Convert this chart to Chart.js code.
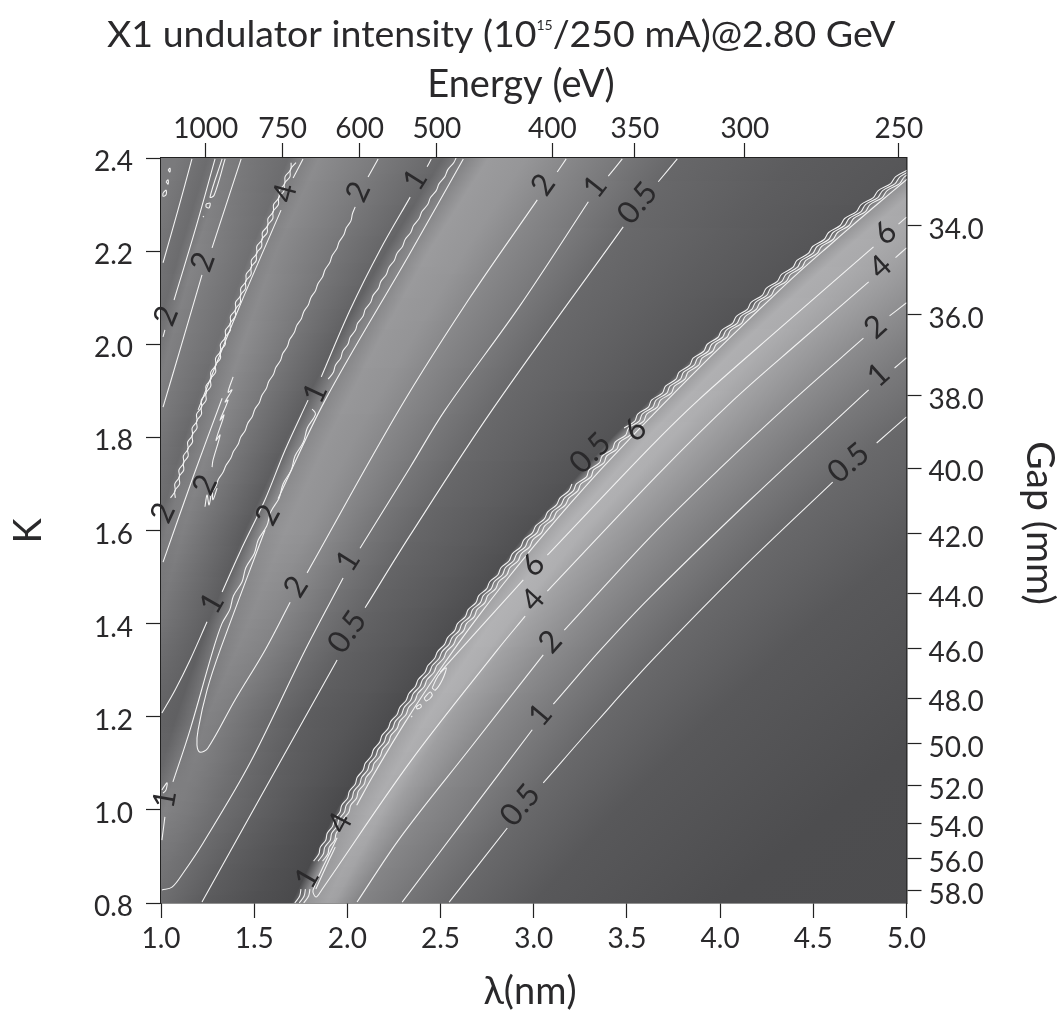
<!DOCTYPE html>
<html>
<head>
<meta charset="utf-8">
<script src="https://cdn.jsdelivr.net/npm/chart.js@4"></script>
<style>
  html, body { margin: 0; padding: 0; background: #fff; }
  canvas { display: block; }
</style>
</head>
<body>
<canvas id="chart" width="1060" height="1011"></canvas>
<script>
// top and right axes are labelled in other units, ticks sit at the matching lambda / K
const energyLabels = ['1000', '750', '600', '500', '400', '350', '300', '250'];
const energyLambda = [1.24, 1.653, 2.066, 2.48, 3.1, 3.542, 4.133, 4.959];
const gapLabels = ['34.0', '36.0', '38.0', '40.0', '42.0', '44.0', '46.0', '48.0', '50.0', '52.0', '54.0', '56.0', '58.0'];
const gapK = [2.255, 2.063, 1.889, 1.734, 1.5925, 1.464, 1.346, 1.24, 1.1415, 1.052, 0.97, 0.8945, 0.826];

// background: grey level read along ridges and troughs, one row per K
const bandK = [0.8, 1.0, 1.2, 1.4, 1.6, 1.8, 2.0, 2.2, 2.4];
const bandLambda = [
  [0.36, 0.41, 0.47, 0.54, 0.62, 0.71, 0.82, 0.94, 1.08],
  [0.41, 0.47, 0.54, 0.625, 0.725, 0.835, 0.96, 1.10, 1.25],
  [0.49, 0.55, 0.62, 0.71, 0.81, 0.925, 1.05, 1.19, 1.35],
  [0.55, 0.63, 0.73, 0.845, 0.977, 1.127, 1.297, 1.48, 1.683],
  [0.60, 0.68, 0.78, 0.895, 1.03, 1.18, 1.35, 1.53, 1.735],
  [0.69, 0.77, 0.87, 0.985, 1.12, 1.27, 1.44, 1.62, 1.85],
  [0.815, 0.935, 1.08, 1.25, 1.45, 1.675, 1.93, 2.205, 2.51],
  [0.88, 1.02, 1.17, 1.34, 1.54, 1.765, 2.02, 2.295, 2.6],
  [0.93, 1.10, 1.25, 1.47, 1.67, 1.90, 2.16, 2.44, 2.76],
  [0.945, 1.15, 1.295, 1.55, 1.79, 2.04, 2.33, 2.63, 2.96],
  [0.96, 1.20, 1.34, 1.635, 1.91, 2.19, 2.50, 2.83, 3.18],
  [1.00, 1.27, 1.55, 1.85, 2.12, 2.43, 2.75, 3.10, 3.47],
  [1.22, 1.50, 1.76, 2.06, 2.35, 2.68, 3.03, 3.39, 3.77],
  [1.50, 1.75, 2.03, 2.36, 2.70, 3.08, 3.50, 3.95, 4.43],
  [1.70, 1.94, 2.24, 2.58, 2.97, 3.42, 3.92, 4.47, 5.07],
  [1.77, 2.01, 2.31, 2.65, 3.04, 3.49, 3.99, 4.54, 5.14],
  [1.89, 2.13, 2.43, 2.77, 3.16, 3.61, 4.11, 4.66, 5.26],
  [1.93, 2.19, 2.49, 2.86, 3.27, 3.74, 4.25, 4.82, 5.43],
  [1.97, 2.25, 2.55, 2.95, 3.38, 3.88, 4.40, 4.99, 5.60],
  [2.05, 2.40, 2.79, 3.22, 3.66, 4.17, 4.74, 5.40, 6.10],
  [2.29, 2.70, 3.05, 3.49, 3.96, 4.48, 5.09, 5.80, 6.50],
  [2.54, 2.94, 3.35, 3.80, 4.30, 4.88, 5.60, 6.30, 7.00],
  [3.00, 3.45, 3.95, 4.50, 5.10, 5.80, 6.50, 7.20, 7.90],
  [4.00, 4.60, 5.20, 5.90, 6.60, 7.30, 8.00, 8.70, 9.40],
  [9.50, 9.60, 9.70, 9.80, 9.90, 10.0, 10.1, 10.2, 10.3]
];
const bandGray = [
  [100, 100, 100, 105, 110, 120, 120, 120, 122],
  [100, 100, 100, 105, 110, 108, 110, 108, 108],
  [100, 100, 100, 108, 118, 125, 128, 132, 125],
  [100, 100, 100, 108, 110, 105, 112, 112, 108],
  [100, 100, 100, 112, 125, 122, 128, 130, 125],
  [100, 100, 102, 118, 128, 135, 140, 138, 140],
  [112, 110, 96, 95, 92, 95, 96, 100, 103],
  [112, 130, 115, 128, 140, 135, 130, 130, 125],
  [112, 125, 130, 140, 150, 150, 152, 155, 155],
  [112, 122, 128, 136, 146, 146, 148, 150, 150],
  [111, 118, 125, 132, 136, 136, 136, 136, 136],
  [110, 112, 108, 114, 118, 120, 122, 122, 120],
  [92, 98, 94, 99, 103, 105, 105, 105, 103],
  [80, 84, 86, 88, 91, 93, 94, 94, 92],
  [74, 74, 76, 78, 80, 83, 84, 85, 86],
  [148, 158, 160, 160, 158, 156, 152, 150, 146],
  [163, 172, 176, 178, 178, 178, 175, 172, 168],
  [160, 169, 173, 175, 175, 175, 172, 169, 165],
  [150, 158, 160, 162, 162, 162, 162, 162, 160],
  [132, 136, 138, 140, 140, 140, 140, 140, 140],
  [118, 120, 122, 122, 122, 122, 122, 122, 122],
  [105, 105, 105, 105, 105, 105, 105, 105, 105],
  [88, 88, 88, 88, 88, 88, 88, 88, 88],
  [77, 77, 77, 77, 77, 77, 77, 77, 77],
  [73, 73, 73, 73, 73, 73, 73, 73, 73]
];

// contours, [lambda, K], null where the line breaks for its label
const c05a = [[2.546, 0.802], [2.858, 0.961], null, [3.051, 1.058], [3.346, 1.193], [3.637, 1.322], [4.109, 1.515], [4.604, 1.704], null, [4.840, 1.788], [5.0, 1.844]];
const c1a = [[2.294, 0.802], [2.643, 0.987], [2.992, 1.172], null, [3.105, 1.227], [3.357, 1.343], [3.625, 1.457], [4.162, 1.666], [4.737, 1.880], [4.797, 1.902], null, [4.936, 1.949], [5.0, 1.971]];
const c2a = [[2.052, 0.802], [2.283, 0.940], [2.664, 1.135], [3.051, 1.333], null, [3.164, 1.386], [3.625, 1.586], [4.001, 1.734], [4.393, 1.880], [4.769, 2.013], null, [4.909, 2.061], [5.0, 2.089]];
const c4a = [[1.945, 0.940], [1.816, 0.828], [1.832, 0.813], [1.862, 0.828], [2.337, 1.103], [2.804, 1.343], [2.954, 1.416], null, [3.073, 1.470], [3.680, 1.726], [4.071, 1.880], [4.431, 2.007], [4.797, 2.134], null, [4.941, 2.186], [5.0, 2.207]];
const c6a = [[2.498, 1.296], [2.944, 1.494], null, [3.073, 1.547], [3.625, 1.779], [3.883, 1.880], [4.323, 2.035], [4.823, 2.209], null, [4.957, 2.258], [5.0, 2.273]];
const c05b = [[1.220, 0.802], [1.585, 1.064], [1.945, 1.322], null, [2.095, 1.434], [2.337, 1.590], [2.777, 1.859], [3.480, 2.252], null, [3.668, 2.349], [3.770, 2.398]];
const c1b = [[1.005, 0.828], [1.059, 0.834], [1.118, 0.864], [1.226, 0.929], [1.478, 1.101], [1.773, 1.343], [1.977, 1.498], null, [2.068, 1.562], [2.337, 1.736], [2.525, 1.859], [2.928, 2.084], [3.293, 2.306], null, [3.400, 2.361], [3.475, 2.398]];
const c2b = [[3.174, 2.398], [3.126, 2.370], null, [3.019, 2.310], [2.649, 2.095], [2.283, 1.863], [1.784, 1.509], null, [1.693, 1.446], [1.558, 1.343], [1.397, 1.236], [1.252, 1.133], [1.209, 1.124], [1.193, 1.139], [1.199, 1.172], [1.247, 1.257], [1.317, 1.343], [1.558, 1.601], null, [1.628, 1.668], [1.881, 1.880], [2.337, 2.196], [2.622, 2.398]];
const c1c = [[1.005, 1.208], [1.075, 1.257], [1.156, 1.322], [1.247, 1.404], null, [1.328, 1.468], [1.424, 1.554], [1.558, 1.666], [1.666, 1.773], [1.789, 1.880], null, [1.860, 1.930], [2.015, 2.074], [2.176, 2.203], [2.337, 2.316], null, [2.428, 2.381], [2.450, 2.398]];
const c1d = [[1.005, 0.935], [1.021, 0.985], null, [1.064, 1.060], [1.156, 1.172], [1.279, 1.343], [1.327, 1.40], [1.369, 1.43], [1.389, 1.46], [1.435, 1.49], [1.455, 1.52], [1.500, 1.55], [1.522, 1.58], [1.568, 1.61], [1.589, 1.64], [1.634, 1.67], [1.655, 1.70], [1.699, 1.73], [1.719, 1.76], [1.764, 1.79], [1.785, 1.82], [1.829, 1.85], [1.811, 1.861]];
const c4stack = [[1.831, 0.83], [1.899, 0.89], [1.935, 0.92], null, [2.05, 1.01], [2.133, 1.07], [2.221, 1.13], [2.313, 1.19], [2.41, 1.25], [2.512, 1.31], [2.618, 1.37], [2.73, 1.43], [2.846, 1.49], [2.967, 1.55], [3.093, 1.61], [3.223, 1.67], [3.358, 1.73], [3.498, 1.79], [3.643, 1.85], [3.79, 1.91], [3.94, 1.97], [4.093, 2.03], [4.25, 2.09], [4.41, 2.15], [4.58, 2.21], [4.753, 2.27], [4.93, 2.33], [5.05, 2.37]];
const c3a = [[1.011, 2.175], [1.091, 2.288], [1.166, 2.398]];
const c3b = [[1.070, 2.095], [1.183, 2.245], [1.290, 2.398]];
const c3c = [[1.011, 1.865], [1.102, 1.988], [1.220, 2.149], null, [1.274, 2.207], [1.430, 2.398]];
const c3d = [[1.011, 2.016], [1.021, 2.031]];
const c3e = [[1.762, 2.398], [1.709, 2.357], null, [1.644, 2.288], [1.413, 2.073], [1.199, 1.859]];
const c3f = [[1.328, 1.884], [1.172, 1.715], [1.011, 1.532]];
const c3g = [[2.165, 2.398], [2.111, 2.359]];
const jagged = [[1.387, 1.930], [1.360, 1.897], [1.381, 1.902], [1.344, 1.876], [1.360, 1.880], [1.317, 1.837], [1.338, 1.848], [1.295, 1.794], [1.317, 1.805], [1.279, 1.751], [1.274, 1.736], null, [1.236, 1.651], [1.247, 1.676], [1.258, 1.655], [1.274, 1.687], [1.279, 1.666], [1.301, 1.691]];
const loops = [
  [1.328, 2.398], [1.263, 2.316], [1.285, 2.320], [1.344, 2.398], null,
  [1.242, 2.301], [1.263, 2.303], [1.258, 2.293], [1.242, 2.295], [1.242, 2.301], null,
  [1.225, 2.273], [1.230, 2.275], null,
  [1.011, 2.325], [1.027, 2.331], [1.027, 2.321], [1.011, 2.318], [1.011, 2.325], null,
  [1.027, 2.349], [1.038, 2.353], [1.038, 2.344], [1.027, 2.349], null,
  [1.038, 2.374], [1.048, 2.378], [1.048, 2.370], [1.038, 2.374], null,
  [1.005, 1.043], [1.032, 1.058], [1.027, 1.043], [1.011, 1.036], null,
  [2.455, 1.262], [2.487, 1.288], [2.530, 1.305], [2.509, 1.279], [2.471, 1.257], [2.455, 1.262], null,
  [2.412, 1.240], [2.444, 1.253], [2.455, 1.245], [2.423, 1.234], [2.412, 1.240], null,
  [2.369, 1.221], [2.391, 1.227], [2.396, 1.221], [2.375, 1.217], [2.369, 1.221], null,
  [2.342, 1.199], [2.348, 1.202]
];

// rippled contours along the first harmonic edge, lambda per K row
const rippleK = [0.800, 0.815, 0.830, 0.845, 0.860, 0.875, 0.890, 0.905, 0.920, 0.935, 0.950, 0.965, 0.980, 0.995, 1.010, 1.025, 1.040, 1.055, 1.070, 1.085, 1.100, 1.115, 1.130, 1.145, 1.160, 1.175, 1.190, 1.205, 1.220, 1.235, 1.250, 1.265, 1.280, 1.295, 1.310, 1.325, 1.340, 1.355, 1.370, 1.385, 1.400, 1.415, 1.430, 1.445, 1.460, 1.475, 1.490, 1.505, 1.520, 1.535, 1.550, 1.565, 1.580, 1.595, 1.610, 1.625, 1.640, 1.655, 1.670, 1.685, 1.700, 1.715, 1.730, 1.745, 1.760, 1.775, 1.790, 1.805, 1.820, 1.835, 1.850, 1.865, 1.880, 1.895, 1.910, 1.925, 1.940, 1.955, 1.970, 1.985, 2.000, 2.015, 2.030, 2.045, 2.060, 2.075, 2.090, 2.105, 2.120, 2.135, 2.150, 2.165, 2.180, 2.195, 2.210, 2.225, 2.240, 2.255, 2.270, 2.285, 2.300, 2.315, 2.330, 2.345, 2.360, 2.375];
const rippleA = [1.718, 1.744, 1.751, null, null, null, 1.819, 1.847, 1.855, 1.884, 1.892, 1.921, 1.931, 1.960, 1.970, 2.001, 2.011, 2.042, 2.053, 2.084, 2.096, 2.128, 2.141, 2.173, 2.186, 2.219, 2.233, 2.267, 2.281, 2.315, 2.330, 2.365, 2.380, 2.416, 2.432, 2.468, 2.484, 2.521, 2.538, 2.576, 2.591, 2.633, 2.648, 2.690, 2.705, 2.748, 2.764, 2.808, 2.824, 2.868, 2.885, 2.930, 2.947, 2.993, 3.011, 3.057, 3.075, 3.122, 3.141, 3.188, 3.205, null, null, null, null, null, null, null, 3.485, 3.542, 3.558, 3.615, 3.632, 3.690, 3.707, 3.763, 3.780, 3.837, 3.855, 3.912, 3.931, 3.989, 4.008, 4.067, 4.087, 4.146, 4.166, 4.226, 4.247, 4.307, 4.329, 4.390, 4.412, 4.473, 4.496, 4.558, 4.582, 4.644, 4.668, 4.732, 4.756, 4.822, 4.848, 4.915, 4.942, 5.009];
const rippleB = [1.742, 1.768, 1.775, null, null, null, 1.843, 1.871, 1.879, 1.908, 1.916, 1.945, 1.955, 1.984, 1.994, 2.025, 2.035, 2.066, 2.077, 2.108, 2.120, 2.152, 2.165, 2.197, 2.210, 2.243, 2.257, 2.291, 2.305, 2.339, 2.354, 2.389, 2.404, 2.440, 2.456, 2.492, 2.508, 2.545, 2.562, 2.600, 2.615, 2.657, 2.672, 2.714, 2.729, 2.772, 2.788, 2.832, 2.848, 2.892, 2.909, 2.954, 2.971, 3.017, 3.035, 3.081, 3.099, 3.146, 3.165, 3.212, 3.229, 3.283, 3.297, 3.352, 3.367, 3.422, 3.437, 3.493, 3.509, 3.566, 3.582, 3.639, 3.656, 3.714, 3.731, 3.787, 3.804, 3.861, 3.879, 3.936, 3.955, 4.013, 4.032, 4.091, 4.111, 4.170, 4.190, 4.250, 4.271, 4.331, 4.353, 4.414, 4.436, 4.497, 4.520, 4.582, 4.606, 4.668, 4.692, 4.756, 4.780, 4.846, 4.872, 4.939, 4.966, 5.033];
const rippleC = [1.766, 1.792, 1.799, null, null, null, 1.867, 1.895, 1.903, 1.932, 1.940, 1.969, 1.979, 2.008, 2.018, 2.049, 2.059, 2.090, 2.101, 2.132, 2.144, 2.176, 2.189, 2.221, 2.234, 2.267, 2.281, 2.315, 2.329, 2.363, 2.378, 2.413, 2.428, 2.464, 2.480, 2.516, 2.532, 2.569, 2.586, 2.624, 2.639, 2.681, 2.696, 2.738, 2.753, 2.796, 2.812, 2.856, 2.872, 2.916, 2.933, 2.978, 2.995, 3.041, 3.059, 3.105, 3.123, 3.170, 3.189, 3.236, 3.253, 3.307, 3.321, 3.376, 3.391, 3.446, 3.461, 3.517, 3.533, 3.590, 3.606, 3.663, 3.680, 3.738, 3.755, 3.811, 3.828, 3.885, 3.903, 3.960, 3.979, 4.037, 4.056, 4.115, 4.135, 4.194, 4.214, 4.274, 4.295, 4.355, 4.377, 4.438, 4.460, 4.521, 4.544, 4.606, 4.630, 4.692, 4.716, 4.780, 4.804, 4.870, 4.896, 4.963, 4.990, 5.057];

// braided pair on the third ridge
const braidK = [1.670, 1.685, 1.700, 1.715, 1.730, 1.745, 1.760, 1.775, 1.790, 1.805, 1.820, 1.835, 1.850, 1.865, 1.880, 1.895, 1.910, 1.925, 1.940, 1.955, 1.970, 1.985, 2.000, 2.015, 2.030, 2.045, 2.060, 2.075, 2.090, 2.105, 2.120, 2.135, 2.150, 2.165, 2.180, 2.195, 2.210, 2.225, 2.240, 2.255, 2.270, 2.285, 2.300, 2.315, 2.330, 2.345, 2.360, 2.375, 2.390];
const braidA = [1.051, 1.076, 1.074, 1.099, 1.096, 1.122, 1.120, 1.145, 1.143, 1.169, 1.167, 1.193, 1.191, 1.218, 1.216, 1.243, 1.241, 1.268, 1.267, 1.294, 1.293, 1.320, 1.319, 1.346, 1.346, 1.373, 1.373, 1.401, 1.400, 1.428, 1.428, 1.456, 1.457, 1.485, 1.485, 1.514, 1.514, 1.543, 1.544, 1.573, 1.574, 1.603, 1.604, 1.633, 1.635, 1.664, 1.666, 1.696, 1.698];
const braidB = [1.077, 1.074, 1.100, 1.097, 1.122, 1.120, 1.146, 1.143, 1.169, 1.167, 1.193, 1.191, 1.217, 1.216, 1.242, 1.241, 1.267, 1.266, 1.293, 1.292, 1.319, 1.318, 1.345, 1.344, 1.372, 1.371, 1.399, 1.399, 1.426, 1.426, 1.454, 1.454, 1.483, 1.483, 1.511, 1.512, 1.540, 1.541, 1.570, 1.571, 1.600, 1.601, 1.630, 1.631, 1.661, 1.662, 1.692, 1.694, 1.724];

// rippled 2 contour right of the third ridge
const waveK = [1.680, 1.695, 1.710, 1.725, 1.740, 1.755, 1.770, 1.785, 1.800, 1.815, 1.830, 1.845, 1.860, 1.875, 1.890, 1.905, 1.920, 1.935, 1.950, 1.965, 1.980, 1.995, 2.010, 2.025, 2.040, 2.055, 2.070, 2.085, 2.100, 2.115, 2.130, 2.145, 2.160, 2.175, 2.190, 2.205, 2.220, 2.235, 2.250, 2.265, 2.280, 2.295];
const waveL = [1.270, 1.295, 1.308, 1.333, 1.349, 1.374, 1.389, 1.414, 1.427, 1.452, 1.465, 1.490, 1.503, 1.528, 1.541, 1.565, 1.578, 1.603, 1.616, 1.641, 1.653, 1.678, 1.690, 1.715, 1.728, 1.753, 1.766, 1.791, 1.804, 1.829, 1.842, 1.867, 1.880, 1.905, 1.918, 1.943, 1.956, 1.981, 1.994, 2.019, 2.027, 2.042];

// rippled 1 contour above the label near lambda 1.85
const upperK = [1.925, 1.940, 1.955, 1.970, 1.985, 2.000, 2.015, 2.030, 2.045, 2.060, 2.075, 2.090, 2.105, 2.120, 2.135, 2.150, 2.165, 2.180, 2.195, 2.210, 2.225, 2.240, 2.255, 2.270, 2.285, 2.300, 2.315, 2.330, 2.345, 2.360, 2.375, 2.390, 2.400];
const upperL = [1.897, 1.925, 1.936, 1.964, 1.975, 2.003, 2.015, 2.043, 2.055, 2.084, 2.096, 2.125, 2.138, 2.167, 2.180, 2.209, 2.223, 2.252, 2.266, 2.296, 2.310, 2.340, 2.355, 2.385, 2.400, 2.431, 2.446, 2.477, 2.492, 2.523, 2.539, 2.571, 2.583];

// contour labels
const labelText = ['0.5', '1', '2', '4', '6', '0.5', '6', '6', '4', '2', '1', '0.5', '4', '1', '0.5', '1', '2', '1', '2', '1', '2', '2', '1', '2', '2', '4', '2', '1', '2', '1', '0.5'];
const labelLambda = [4.689, 4.850, 4.833, 4.860, 4.887, 3.303, 3.545, 2.997, 2.997, 3.089, 3.035, 2.927, 1.961, 1.784, 1.999, 2.004, 1.725, 1.274, 1.574, 1.021, 1.236, 1.011, 1.827, 1.027, 1.225, 1.666, 2.058, 2.364, 3.051, 3.330, 3.556];
const labelK = [1.745, 1.934, 2.037, 2.166, 2.239, 1.766, 1.816, 1.526, 1.451, 1.361, 1.204, 1.010, 0.972, 0.854, 1.382, 1.535, 1.479, 1.444, 1.633, 1.023, 1.698, 1.638, 1.895, 2.061, 2.177, 2.325, 2.327, 2.353, 2.342, 2.338, 2.303];
const labelAngle = [-40, -42, -42, -42, -42, -45, -45, -45, -48, -48, -50, -50, -62, -60, -55, -58, -58, -60, -62, -80, -65, -65, -65, -68, -70, -75, -65, -58, -55, -52, -50];

const FONT = 'Lato';
const INK = '#2a292b';

const zipK = (lams, ks) => lams.map((l, i) => l === null ? null : [l, ks[i]]);

const contourSets = [
  c05a, c1a, c2a, c4a, c6a, c05b, c1b, c2b, c1c, c1d, c4stack, c3a, c3b, c3c, c3d, c3e, c3f, c3g, jagged, loops,
  zipK(rippleA, rippleK), zipK(rippleB, rippleK), zipK(rippleC, rippleK),
  zipK(braidA, braidK), zipK(braidB, braidK), zipK(waveL, waveK), zipK(upperL, upperK)
];

const datasets = contourSets.map(points => ({
  type: 'line',
  data: points.map(p => p ? { x: p[0], y: p[1] } : { x: null, y: null }),
  borderColor: '#f2f2f2',
  borderWidth: 1.1,
  pointRadius: 0,
  tension: 0.35,
  spanGaps: false,
  fill: false
}));

// grey background, one gradient per pixel row so the sharp edges stay sharp
const bandPlugin = {
  id: 'bands',
  beforeDatasetsDraw(chart) {
    const { ctx, chartArea: a, scales: { x, y } } = chart;
    ctx.save();
    ctx.beginPath();
    ctx.rect(a.left, a.top, a.width, a.height);
    ctx.clip();
    for (let py = Math.floor(a.top); py < a.bottom; py++) {
      const k = y.getValueForPixel(py + 0.5);
      let r = 0;
      while (r < bandK.length - 2 && k > bandK[r + 1]) r++;
      const t = (k - bandK[r]) / (bandK[r + 1] - bandK[r]);
      const xs = bandLambda.map(row => x.getPixelForValue(row[r] + (row[r + 1] - row[r]) * t));
      const gs = bandGray.map(row => row[r] + (row[r + 1] - row[r]) * t);
      const x0 = xs[0], x1 = xs[xs.length - 1];
      const grad = ctx.createLinearGradient(x0, 0, x1, 0);
      xs.forEach((px, i) => {
        const g = Math.round(gs[i]);
        grad.addColorStop((px - x0) / (x1 - x0), `rgb(${g},${g},${g + 2})`);
      });
      ctx.fillStyle = grad;
      ctx.fillRect(a.left, py, a.width, 1);
    }
    ctx.restore();
  }
};

const labelPlugin = {
  id: 'contourLabels',
  afterDatasetsDraw(chart) {
    const { ctx, scales: { x, y } } = chart;
    ctx.save();
    ctx.fillStyle = INK;
    ctx.font = `31px ${FONT}`;
    ctx.textAlign = 'center';
    ctx.textBaseline = 'middle';
    labelText.forEach((txt, i) => {
      ctx.save();
      ctx.translate(x.getPixelForValue(labelLambda[i]), y.getPixelForValue(labelK[i]));
      ctx.rotate(labelAngle[i] * Math.PI / 180);
      ctx.fillText(txt, 0, 0);
      ctx.restore();
    });
    ctx.restore();
  }
};

// title and axis names sit off centre in the reference, so they are placed by hand
const captionPlugin = {
  id: 'captions',
  afterDraw(chart) {
    const { ctx } = chart;
    const put = (txt, px, py, size, rot, align) => {
      ctx.save();
      ctx.font = `${size}px ${FONT}`;
      ctx.fillStyle = INK;
      ctx.textAlign = align;
      ctx.textBaseline = 'alphabetic';
      ctx.translate(px, py);
      ctx.rotate(rot);
      ctx.fillText(txt, 0, 0);
      ctx.restore();
    };
    // title with its small superscript
    ctx.font = `37.5px ${FONT}`;
    const head = 'X1 undulator intensity (10', tail = '/250 mA)@2.80 GeV';
    const headW = ctx.measureText(head).width;
    put(head, 107, 47, 37.5, 0, 'left');
    ctx.font = `14px ${FONT}`;
    const supW = ctx.measureText('15').width;
    put('15', 107 + headW, 30, 14, 0, 'left');
    put(tail, 107 + headW + supW, 47, 37.5, 0, 'left');
    put('Energy (eV)', 521, 97, 38, 0, 'center');
    put('λ(nm)', 530, 1004, 38, 0, 'center');
    put('K', 41, 531, 38, -Math.PI / 2, 'center');
    put('Gap (mm)', 1027, 523, 39, Math.PI / 2, 'center');
  }
};

const tickFont = { family: FONT, size: 28 };
const axisGrid = { drawOnChartArea: false, color: '#222', tickLength: 15, tickWidth: 1.2 };

new Chart(document.getElementById('chart').getContext('2d'), {
  data: { datasets },
  plugins: [bandPlugin, labelPlugin, captionPlugin],
  options: {
    responsive: false,
    animation: false,
    events: [],
    layout: { padding: 0 },
    plugins: {
      legend: { display: false },
      tooltip: { enabled: false },
      title: { display: false }
    },
    scales: {
      x: {
        type: 'linear', position: 'bottom', min: 1, max: 5,
        afterFit(s) { s.height = 108; },
        border: { color: '#222', width: 1.5 },
        grid: axisGrid,
        ticks: { stepSize: 0.5, color: INK, font: tickFont, padding: 4, maxRotation: 0, callback: v => v.toFixed(1) }
      },
      x2: {
        type: 'linear', position: 'top', min: 1, max: 5,
        afterFit(s) { s.height = 158; },
        afterBuildTicks(s) { s.ticks = energyLambda.map(value => ({ value })); },
        border: { color: '#222', width: 1.5 },
        grid: axisGrid,
        ticks: { color: INK, font: tickFont, padding: -3, maxRotation: 0, autoSkip: false, callback: (v, i) => energyLabels[i] }
      },
      y: {
        type: 'linear', position: 'left', min: 0.8, max: 2.4,
        afterFit(s) { s.width = 161; },
        border: { color: '#222', width: 1.5 },
        grid: axisGrid,
        ticks: { stepSize: 0.2, color: INK, font: tickFont, padding: 13, labelOffset: 4, callback: v => v.toFixed(1) }
      },
      y2: {
        type: 'linear', position: 'right', min: 0.8, max: 2.4,
        afterFit(s) { s.width = 153.5; },
        afterBuildTicks(s) { s.ticks = gapK.map(value => ({ value })); },
        border: { color: '#222', width: 1.5 },
        grid: axisGrid,
        ticks: { color: INK, font: tickFont, padding: 7, labelOffset: 4, autoSkip: false, callback: (v, i) => gapLabels[i] }
      }
    }
  }
});
</script>
</body>
</html>
